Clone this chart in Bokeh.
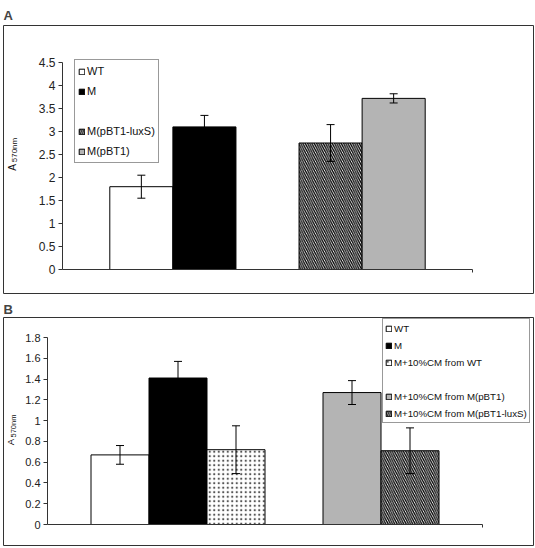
from bokeh.plotting import figure
from bokeh.models import (ColumnDataSource, LinearAxis, FixedTicker, Whisker, TeeHead,
                          Legend, LegendItem, CustomJSTickFormatter, Range1d)
from bokeh.layouts import column
from bokeh.embed import file_html
from bokeh.resources import INLINE

FONT = "Liberation Sans"

# ---------------- Panel A data ----------------
a_series = ["WT", "M", "M(pBT1-luxS)", "M(pBT1)"]
a_values = [1.80, 3.10, 2.75, 3.72]
a_errors = [0.25, 0.25, 0.40, 0.10]
a_ticks = [0, 0.5, 1, 1.5, 2, 2.5, 3, 3.5, 4, 4.5]
a_legend_order = ["WT", "M", None, "M(pBT1-luxS)", "M(pBT1)"]

# ---------------- Panel B data ----------------
b_series = ["WT", "M", "M+10%CM from WT", "M+10%CM from M(pBT1)", "M+10%CM from M(pBT1-luxS)"]
b_values = [0.67, 1.41, 0.72, 1.27, 0.71]
b_errors = [0.09, 0.16, 0.23, 0.115, 0.22]
b_ticks = [0, 0.2, 0.4, 0.6, 0.8, 1.0, 1.2, 1.4, 1.6, 1.8]
b_legend_order = ["WT", "M", "M+10%CM from WT", None,
                  "M+10%CM from M(pBT1)", "M+10%CM from M(pBT1-luxS)"]

y_label_main = "A"
y_label_sub = "570nm"

GRAY = "#b4b4b4"
HATCH = dict(fill_color="white", hatch_pattern="left_diagonal_line", hatch_color="black",
             hatch_scale=4.5, hatch_weight=1.3)
STYLES = {
    "WT": dict(fill_color="white"),
    "M": dict(fill_color="black"),
    "M(pBT1-luxS)": HATCH,
    "M(pBT1)": dict(fill_color=GRAY),
    "M+10%CM from WT": dict(fill_color="white", hatch_pattern="dot", hatch_color="#555555",
                            hatch_scale=4.5, hatch_weight=1),
    "M+10%CM from M(pBT1)": dict(fill_color=GRAY),
    "M+10%CM from M(pBT1-luxS)": HATCH,
}

REF_X0, REF_X1 = 3, 533
FIG_W = 535
FRAME_W = REF_X1 - REF_X0


def label_axis(p, text, size, x_loc, y_mid, half):
    """An invisible vertical axis used only to carry a rotated text label."""
    ax = LinearAxis(fixed_location=x_loc, bounds=(y_mid - half, y_mid + half),
                    ticker=FixedTicker(ticks=[]))
    ax.axis_line_alpha = 0
    ax.major_tick_out = 0
    ax.major_tick_in = 0
    ax.minor_tick_out = 0
    ax.axis_label = text
    ax.axis_label_orientation = "parallel"
    ax.axis_label_text_font = FONT
    ax.axis_label_text_font_size = size
    ax.axis_label_text_font_style = "normal"
    ax.axis_label_text_color = "#111111"
    ax.axis_label_standoff = 0
    p.add_layout(ax, "left")


def build(letter, series, values, errors, ticks, slots, x_len, legend_order, g):
    frame_h = g["ref_bot"] - g["ref_top"]
    ax_px = g["yaxis_x"] - REF_X0
    xe_px = g["xend_x"] - REF_X0
    upx = (xe_px - ax_px) / x_len
    x_start = -ax_px / upx
    x_end = (FRAME_W - ax_px) / upx
    ymax = ticks[-1]
    y0_px = g["y0_ref"] - g["ref_top"]
    yt_px = g["ytop_ref"] - g["ref_top"]
    upy = (y0_px - yt_px) / ymax
    y_end = ymax + yt_px / upy
    y_start = -(frame_h - y0_px) / upy

    def dx(rx):
        return x_start + (rx - REF_X0) / upx

    def dy(ry):
        return y_end - (ry - g["ref_top"]) / upy

    bt = g["ref_top"] - g["fig_top"]
    bb = g["fig_h"] - bt - frame_h
    p = figure(width=FIG_W, height=g["fig_h"], x_range=Range1d(x_start, x_end),
               y_range=Range1d(y_start, y_end), x_axis_location=None, y_axis_location=None,
               toolbar_location=None, output_backend="svg",
               min_border_left=REF_X0, min_border_right=FIG_W - REF_X1, min_border_top=bt,
               min_border_bottom=bb)
    p.xgrid.visible = False
    p.ygrid.visible = False
    p.outline_line_color = "#333333"
    p.outline_line_width = 1
    p.background_fill_color = "white"
    p.border_fill_color = "white"
    p.title.text = letter
    p.title.text_font = FONT
    p.title.text_font_size = "13px"
    p.title.text_font_style = "bold"
    p.title.standoff = g["title_standoff"]
    p.title.offset = 0

    # axes inside the frame
    yax = LinearAxis(fixed_location=0, bounds=(0, ymax), ticker=FixedTicker(ticks=ticks),
                     formatter=CustomJSTickFormatter(code="return Number(tick.toFixed(2)).toString()"))
    yax.major_tick_in = 0
    yax.major_tick_out = 4
    yax.minor_tick_out = 0
    yax.axis_line_color = "#333333"
    yax.major_tick_line_color = "#333333"
    yax.major_label_text_font = FONT
    yax.major_label_text_font_size = g["tick_fs"]
    yax.major_label_text_color = "#222222"
    yax.major_label_standoff = 3
    p.add_layout(yax, "left")

    xax = LinearAxis(fixed_location=0, bounds=(0, x_len), ticker=FixedTicker(ticks=[x_len]))
    xax.major_tick_in = 0
    xax.major_tick_out = 3
    xax.minor_tick_out = 0
    xax.axis_line_color = "#333333"
    xax.major_tick_line_color = "#333333"
    xax.major_label_text_alpha = 0
    p.add_layout(xax, "below")

    # y-axis title: A with subscript 570nm, rotated (centred on the given reference rows)
    half = 0.25 * ymax
    label_axis(p, y_label_main, g["ylab_fs"], dx(g["ylab_edge"]), dy(g["ylab_mid"]), half)
    label_axis(p, y_label_sub, g["sub_fs"], dx(g["sub_edge"]), dy(g["sub_mid"]), half)

    centers = [0.75 + 0.5 + s for s in slots]
    renderers = {}
    for name, c, v in zip(series, centers, values):
        src = ColumnDataSource(dict(x=[c], top=[v]))
        r = p.vbar(x="x", top="top", width=1.0, bottom=0, source=src,
                   line_color="black", line_width=1, **STYLES[name])
        renderers[name] = r

    wsrc = ColumnDataSource(dict(x=centers,
                                 upper=[v + e for v, e in zip(values, errors)],
                                 lower=[v - e for v, e in zip(values, errors)]))
    w = Whisker(base="x", upper="upper", lower="lower", source=wsrc,
                line_color="black", line_width=1, level="overlay",
                upper_head=TeeHead(size=8, line_color="black", line_width=1),
                lower_head=TeeHead(size=8, line_color="black", line_width=1))
    p.add_layout(w)

    blank = p.vbar(x=[], top=[], width=1, fill_alpha=0, line_alpha=0)
    items = []
    for name in legend_order:
        if name is None:
            items.append(LegendItem(label=" ", renderers=[blank]))
        else:
            items.append(LegendItem(label=name, renderers=[renderers[name]]))
    lx = g["leg_x"] - REF_X0
    ly = frame_h - (g["leg_bot"] - g["ref_top"])
    leg = Legend(items=items, location=(lx, ly))
    leg.glyph_width = 7
    leg.glyph_height = 7
    leg.label_text_font = FONT
    leg.label_text_font_size = g["leg_fs"]
    leg.label_text_color = "#111111"
    leg.label_height = g["leg_lh"]
    leg.spacing = g["leg_sp"]
    leg.padding = g["leg_pad"]
    leg.margin = 0
    leg.label_standoff = 2
    leg.border_line_color = "#333333"
    leg.border_line_width = 1
    leg.background_fill_alpha = 1
    p.add_layout(leg)
    return p


geo_a = dict(fig_top=0, fig_h=296, ref_top=25, ref_bot=293, yaxis_x=62, xend_x=472,
             y0_ref=269, ytop_ref=62, tick_fs="12px", title_standoff=5,
             leg_x=74, leg_bot=163, leg_fs="11px", leg_lh=16, leg_sp=4, leg_pad=3,
             ylab_edge=17, ylab_mid=167, ylab_fs="10px",
             sub_edge=17.8, sub_mid=149.5, sub_fs="8px")
geo_b = dict(fig_top=296, fig_h=252, ref_top=317, ref_bot=545, yaxis_x=47, xend_x=482,
             y0_ref=524, ytop_ref=337, tick_fs="11px", title_standoff=2,
             leg_x=382, leg_bot=423, leg_fs="9.7px", leg_lh=14, leg_sp=3, leg_pad=2,
             ylab_edge=15, ylab_mid=441.5, ylab_fs="9.5px",
             sub_edge=16.7, sub_mid=425.5, sub_fs="7.5px")

pa = build("A", a_series, a_values, a_errors, a_ticks, [0, 1, 3, 4], 6.5, a_legend_order, geo_a)
pb = build("B", b_series, b_values, b_errors, b_ticks, [0, 1, 2, 4, 5], 7.5, b_legend_order, geo_b)

layout = column(pa, pb, spacing=0)
open("out.html", "w").write(file_html(layout, INLINE))
